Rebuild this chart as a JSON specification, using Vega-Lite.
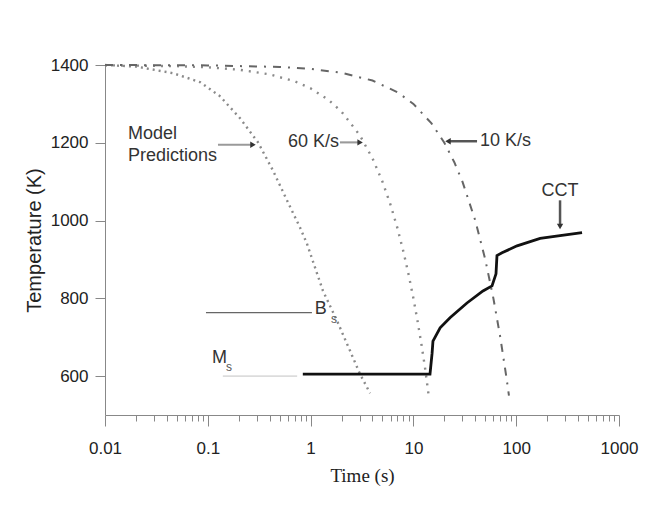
{
  "$schema": "https://vega.github.io/schema/vega-lite/v6.json",
  "width": 514,
  "height": 350,
  "autosize": {"type": "none"},
  "padding": {"left": 105, "top": 65, "right": 38, "bottom": 96},
  "background": "#ffffff",
  "config": {
    "view": {"stroke": null},
    "axis": {"grid": false, "domainColor": "#888", "tickColor": "#888", "labelFont": "Liberation Sans", "labelColor": "#222", "titleColor": "#222", "titleFontWeight": "normal", "labelFlush": false, "labelOverlap": false}
  },
  "datasets": {
    "curves": [
      {"series": "Model", "t": 0.01, "T": 1400}, {"series": "Model", "t": 0.02, "T": 1396}, {"series": "Model", "t": 0.0458, "T": 1379}, {"series": "Model", "t": 0.084, "T": 1356}, {"series": "Model", "t": 0.131, "T": 1320}, {"series": "Model", "t": 0.206, "T": 1263}, {"series": "Model", "t": 0.308, "T": 1201}, {"series": "Model", "t": 0.43, "T": 1129}, {"series": "Model", "t": 0.589, "T": 1052}, {"series": "Model", "t": 0.789, "T": 982}, {"series": "Model", "t": 0.92, "T": 941}, {"series": "Model", "t": 1.32, "T": 819}, {"series": "Model", "t": 1.81, "T": 742}, {"series": "Model", "t": 2.42, "T": 665}, {"series": "Model", "t": 3.03, "T": 605}, {"series": "Model", "t": 3.79, "T": 556},
      {"series": "60", "t": 0.01, "T": 1399.4}, {"series": "60", "t": 0.05, "T": 1397}, {"series": "60", "t": 0.1, "T": 1394}, {"series": "60", "t": 0.2, "T": 1388}, {"series": "60", "t": 0.4, "T": 1376}, {"series": "60", "t": 0.7, "T": 1358}, {"series": "60", "t": 1, "T": 1340}, {"series": "60", "t": 1.5, "T": 1310}, {"series": "60", "t": 2, "T": 1280}, {"series": "60", "t": 3, "T": 1220}, {"series": "60", "t": 4, "T": 1160}, {"series": "60", "t": 5, "T": 1100}, {"series": "60", "t": 6, "T": 1040}, {"series": "60", "t": 7, "T": 980}, {"series": "60", "t": 8, "T": 920}, {"series": "60", "t": 9, "T": 860}, {"series": "60", "t": 10, "T": 800}, {"series": "60", "t": 11, "T": 740}, {"series": "60", "t": 12, "T": 680}, {"series": "60", "t": 13, "T": 620}, {"series": "60", "t": 14, "T": 555},
      {"series": "10", "t": 0.01, "T": 1400}, {"series": "10", "t": 0.1, "T": 1399}, {"series": "10", "t": 0.5, "T": 1395}, {"series": "10", "t": 1, "T": 1390}, {"series": "10", "t": 2, "T": 1380}, {"series": "10", "t": 4, "T": 1360}, {"series": "10", "t": 7, "T": 1330}, {"series": "10", "t": 10, "T": 1300}, {"series": "10", "t": 15, "T": 1250}, {"series": "10", "t": 20, "T": 1200}, {"series": "10", "t": 25, "T": 1150}, {"series": "10", "t": 30, "T": 1100}, {"series": "10", "t": 40, "T": 1000}, {"series": "10", "t": 50, "T": 900}, {"series": "10", "t": 60, "T": 800}, {"series": "10", "t": 70, "T": 700}, {"series": "10", "t": 80, "T": 600}, {"series": "10", "t": 85, "T": 550},
      {"series": "CCT", "t": 0.84, "T": 605}, {"series": "CCT", "t": 14.5, "T": 605}, {"series": "CCT", "t": 15.2, "T": 659}, {"series": "CCT", "t": 15.5, "T": 690}, {"series": "CCT", "t": 18.2, "T": 724}, {"series": "CCT", "t": 22.7, "T": 750}, {"series": "CCT", "t": 33.2, "T": 788}, {"series": "CCT", "t": 47.5, "T": 819}, {"series": "CCT", "t": 58.2, "T": 832}, {"series": "CCT", "t": 63.6, "T": 863}, {"series": "CCT", "t": 65, "T": 910}, {"series": "CCT", "t": 72.8, "T": 917}, {"series": "CCT", "t": 102, "T": 935}, {"series": "CCT", "t": 171, "T": 954}, {"series": "CCT", "t": 267, "T": 961}, {"series": "CCT", "t": 437, "T": 969}
    ],
    "segments": [
      {"kind": "bs", "t": 0.096, "t2": 1.03, "T": 763, "T2": 763},
      {"kind": "ms", "t": 0.14, "t2": 0.74, "T": 600, "T2": 600},
      {"kind": "light", "t": 0.1256, "t2": 0.275, "T": 1195, "T2": 1195},
      {"kind": "light", "t": 1.93, "t2": 3.0, "T": 1201, "T2": 1201},
      {"kind": "dark", "t": 21.7, "t2": 41.6, "T": 1204, "T2": 1204},
      {"kind": "dark", "t": 267, "t2": 267, "T": 1052, "T2": 985}
    ],
    "heads": [
      {"dir": "right", "t": 0.275, "T": 1195},
      {"dir": "right", "t": 3.03, "T": 1201},
      {"dir": "left", "t": 21.7, "T": 1204},
      {"dir": "down", "t": 267, "T": 985}
    ],
    "labels": [
      {"kind": "main", "align": "left", "text": "Model", "t": 0.01675, "T": 1222},
      {"kind": "main", "align": "left", "text": "Predictions", "t": 0.01675, "T": 1165},
      {"kind": "main", "align": "left", "text": "60 K/s", "t": 0.602, "T": 1201},
      {"kind": "main", "align": "left", "text": "10 K/s", "t": 44.5, "T": 1204},
      {"kind": "main", "align": "center", "text": "CCT", "t": 267, "T": 1077},
      {"kind": "main", "align": "left", "text": "B", "t": 1.10, "T": 773},
      {"kind": "main", "align": "left", "text": "M", "t": 0.11, "T": 646},
      {"kind": "sub", "align": "left", "text": "s", "t": 1.58, "T": 747},
      {"kind": "sub", "align": "left", "text": "s", "t": 0.150, "T": 623}
    ]
  },
  "resolve": {"axis": {"x": "independent"}},
  "layer": [
    {
      "data": {"name": "curves"},
      "transform": [{"filter": "datum.series == 'Model'"}],
      "mark": {"type": "line", "color": "#8a8a8a", "strokeWidth": 2.4, "strokeDash": [2, 4]},
      "encoding": {
        "x": {"field": "t", "type": "quantitative", "scale": {"type": "log", "domain": [0.01, 1000], "nice": false},
              "axis": {"orient": "bottom", "values": [0.01, 0.1, 1, 10, 100, 1000], "format": "~g", "tickSize": 11, "labelFontSize": 17, "labelPadding": 14, "title": "Time (s)", "titleFont": "Liberation Serif", "titleFontSize": 19, "titlePadding": 10}},
        "y": {"field": "T", "type": "quantitative", "scale": {"domain": [500, 1400], "nice": false, "zero": false},
              "axis": {"values": [600, 800, 1000, 1200, 1400], "format": "d", "tickSize": 10, "labelFontSize": 17, "labelPadding": 7, "title": "Temperature (K)", "titleFont": "Liberation Sans", "titleFontSize": 20, "titlePadding": 6}}
      }
    },
    {
      "data": {"name": "curves"},
      "transform": [{"filter": "datum.series == '60'"}],
      "mark": {"type": "line", "color": "#8a8a8a", "strokeWidth": 2.4, "strokeDash": [2, 6]},
      "encoding": {
        "x": {"field": "t", "type": "quantitative", "scale": {"type": "log", "domain": [0.01, 1000], "nice": false},
              "axis": {"orient": "bottom", "values": [0.02, 0.03, 0.04, 0.05, 0.06, 0.07, 0.08, 0.09, 0.2, 0.3, 0.4, 0.5, 0.6, 0.7, 0.8, 0.9, 2, 3, 4, 5, 6, 7, 8, 9, 20, 30, 40, 50, 60, 70, 80, 90, 200, 300, 400, 500, 600, 700, 800, 900], "tickSize": 6, "labels": false, "domain": false, "title": null}},
        "y": {"field": "T", "type": "quantitative"}
      }
    },
    {
      "data": {"name": "curves"},
      "transform": [{"filter": "datum.series == '10'"}],
      "mark": {"type": "line", "color": "#666", "strokeWidth": 2, "strokeDash": [8, 7, 2, 7]},
      "encoding": {
        "x": {"field": "t", "type": "quantitative", "axis": null},
        "y": {"field": "T", "type": "quantitative"}
      }
    },
    {
      "data": {"name": "curves"},
      "transform": [{"filter": "datum.series == 'CCT'"}],
      "mark": {"type": "line", "color": "#111", "strokeWidth": 2.8},
      "encoding": {
        "x": {"field": "t", "type": "quantitative", "axis": null},
        "y": {"field": "T", "type": "quantitative"}
      }
    },
    {
      "data": {"name": "segments"},
      "mark": {"type": "rule"},
      "encoding": {
        "x": {"field": "t", "type": "quantitative", "axis": null},
        "x2": {"field": "t2"},
        "y": {"field": "T", "type": "quantitative"},
        "y2": {"field": "T2"},
        "color": {"field": "kind", "type": "nominal", "scale": {"domain": ["bs", "ms", "light", "dark"], "range": ["#666", "#dcdcdc", "#9a9a9a", "#555"]}, "legend": null},
        "strokeWidth": {"field": "kind", "type": "nominal", "scale": {"domain": ["bs", "ms", "light", "dark"], "range": [1.3, 2.5, 1, 1.3]}, "legend": null}
      }
    },
    {
      "data": {"name": "heads"},
      "mark": {"type": "point", "filled": true, "size": 40, "color": "#333", "opacity": 1},
      "encoding": {
        "x": {"field": "t", "type": "quantitative", "axis": null},
        "y": {"field": "T", "type": "quantitative"},
        "shape": {"field": "dir", "type": "nominal", "scale": {"domain": ["right", "left", "down"], "range": ["triangle-right", "triangle-left", "triangle-down"]}, "legend": null}
      }
    },
    {
      "data": {"name": "labels"},
      "transform": [{"filter": "datum.kind == 'main' && datum.align == 'left'"}],
      "mark": {"type": "text", "align": "left", "baseline": "middle", "font": "Liberation Sans", "fontSize": 18, "color": "#333"},
      "encoding": {
        "x": {"field": "t", "type": "quantitative", "axis": null},
        "y": {"field": "T", "type": "quantitative"},
        "text": {"field": "text"}
      }
    },
    {
      "data": {"name": "labels"},
      "transform": [{"filter": "datum.kind == 'main' && datum.align == 'center'"}],
      "mark": {"type": "text", "align": "center", "baseline": "middle", "font": "Liberation Sans", "fontSize": 18, "color": "#333"},
      "encoding": {
        "x": {"field": "t", "type": "quantitative", "axis": null},
        "y": {"field": "T", "type": "quantitative"},
        "text": {"field": "text"}
      }
    },
    {
      "data": {"name": "labels"},
      "transform": [{"filter": "datum.kind == 'sub'"}],
      "mark": {"type": "text", "align": "left", "baseline": "middle", "font": "Liberation Sans", "fontSize": 12, "color": "#555"},
      "encoding": {
        "x": {"field": "t", "type": "quantitative", "axis": null},
        "y": {"field": "T", "type": "quantitative"},
        "text": {"field": "text"}
      }
    }
  ]
}
